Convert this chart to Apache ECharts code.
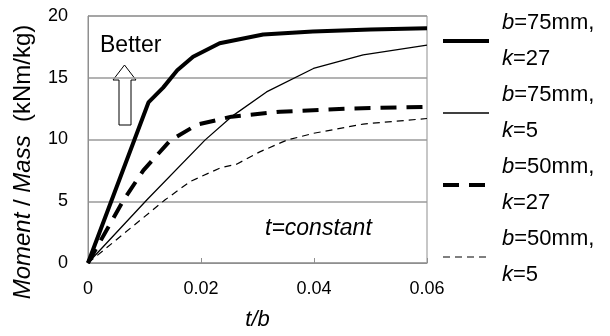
<!DOCTYPE html>
<html>
<head>
<meta charset="utf-8">
<script src="https://cdn.jsdelivr.net/npm/echarts@6/dist/echarts.min.js"></script>
<style>
html,body{margin:0;padding:0;background:#fff;}
#c{width:610px;height:336px;}
</style>
</head>
<body>
<div id="c"></div>
<script>
// ---- data ----
var xTicks = [0, 0.02, 0.04, 0.06];
var yTicks = [0, 5, 10, 15, 20];
var seriesNames = ['b=75mm, k=27', 'b=75mm, k=5', 'b=50mm, k=27', 'b=50mm, k=5'];
var legendB = ['75mm', '75mm', '50mm', '50mm'];
var legendK = ['27', '5', '27', '5'];

var x75k27 = [0, 0.0107, 0.0133, 0.0158, 0.0186, 0.0233, 0.0310, 0.0398, 0.050, 0.060];
var y75k27 = [0, 13.0, 14.2, 15.6, 16.7, 17.8, 18.5, 18.75, 18.9, 19.0];

var x75k5 = [0, 0.0104, 0.0207, 0.0254, 0.0316, 0.0399, 0.0487, 0.060];
var y75k5 = [0, 5.1, 9.95, 11.85, 13.85, 15.75, 16.85, 17.65];

var x50k27 = [0, 0.0063, 0.0098, 0.0145, 0.0193, 0.0254, 0.034, 0.0458, 0.060];
var y50k27 = [0, 5.1, 7.5, 9.9, 11.2, 11.85, 12.25, 12.5, 12.65];

var x50k5 = [0, 0.0136, 0.0181, 0.0234, 0.0263, 0.0304, 0.0352, 0.0399, 0.0487, 0.060];
var y50k5 = [0, 5.1, 6.6, 7.7, 8.0, 9.0, 9.95, 10.5, 11.25, 11.7];

function pairs(xs, ys) { return xs.map(function (x, i) { return [x, ys[i]]; }); }

var FONT = '"Liberation Sans", Arial, sans-serif';
var GRAY = '#8f8f8f';

var chart = echarts.init(document.getElementById('c'), null, {renderer: 'canvas'});
var option = {
  animation: false,
  backgroundColor: '#fff',
  textStyle: {fontFamily: FONT},
  grid: {left: 88, right: 183, top: 16, bottom: 73, show: true, borderColor: GRAY, borderWidth: 1},
  xAxis: {
    type: 'value', min: xTicks[0], max: xTicks[xTicks.length - 1], interval: 0.02,
    name: 't/b', nameLocation: 'middle', nameGap: 46,
    nameTextStyle: {fontSize: 22, fontStyle: 'italic', color: '#000', fontFamily: FONT},
    axisLine: {show: true, lineStyle: {color: GRAY, width: 1}},
    axisTick: {show: true, inside: true, length: 5, lineStyle: {color: GRAY, width: 1}},
    axisLabel: {fontSize: 18, color: '#000', margin: 17, fontFamily: FONT},
    splitLine: {show: false}
  },
  yAxis: {
    type: 'value', min: yTicks[0], max: yTicks[yTicks.length - 1], interval: 5,
    axisLine: {show: true, lineStyle: {color: GRAY, width: 1}},
    axisTick: {show: false},
    axisLabel: {fontSize: 18, color: '#000', margin: 20, fontFamily: FONT},
    splitLine: {show: true, lineStyle: {color: '#9a9a9a', width: 1.5}}
  },
  legend: {
    orient: 'vertical', left: 436, top: 0, itemGap: 0,
    itemWidth: 46, itemHeight: 14,
    data: seriesNames,
    itemStyle: {opacity: 0},
    lineStyle: {width: 'inherit', type: 'inherit'},
    formatter: function (name) {
      var i = seriesNames.indexOf(name);
      return '{i|b}{n|=' + legendB[i] + ',}\n{i|k}{n|=' + legendK[i] + '}';
    },
    textStyle: {
      fontSize: 22, lineHeight: 36, color: '#000', fontFamily: FONT, padding: [0, 0, 0, 8],
      rich: {
        i: {fontSize: 22, lineHeight: 36, fontStyle: 'italic', color: '#000', fontFamily: FONT},
        n: {fontSize: 22, lineHeight: 36, color: '#000', fontFamily: FONT}
      }
    }
  },
  series: [
    {name: seriesNames[0], type: 'line', symbol: 'none', data: pairs(x75k27, y75k27),
     lineStyle: {color: '#000', width: 4}, itemStyle: {color: '#000'}},
    {name: seriesNames[1], type: 'line', symbol: 'none', data: pairs(x75k5, y75k5),
     lineStyle: {color: '#000', width: 1.3}, itemStyle: {color: '#000'}},
    {name: seriesNames[2], type: 'line', symbol: 'none', data: pairs(x50k27, y50k27),
     lineStyle: {color: '#000', width: 4, type: [16, 10]}, itemStyle: {color: '#000'}},
    {name: seriesNames[3], type: 'line', symbol: 'none', data: pairs(x50k5, y50k5),
     lineStyle: {color: '#000', width: 1.2, type: [7, 5]}, itemStyle: {color: '#000'}}
  ],
  graphic: [
    {type: 'text', x: 23, y: 162, rotation: Math.PI / 2,
     style: {
       x: 0, y: 0,
       text: '{i|Moment} / {i|Mass}  (kNm/kg)',
       font: '24px ' + FONT, fill: '#000', align: 'center', verticalAlign: 'middle',
       rich: {i: {fontStyle: 'italic', fontSize: 24, fontFamily: FONT, fill: '#000'}}
     }},
    {type: 'text', x: 100, y: 34,
     style: {text: 'Better', font: '23px ' + FONT, fill: '#000'}},
    {type: 'polygon', shape: {points: [[124.5, 65], [136, 80], [131, 80], [131, 125], [119, 125], [119, 80], [113, 80]]},
     style: {fill: '#fff', stroke: '#000', lineWidth: 1}},
    {type: 'text', x: 265, y: 217,
     style: {text: 't=constant', font: 'italic 23px ' + FONT, fill: '#000'}}
  ]
};
chart.setOption(option);
</script>
</body>
</html>
